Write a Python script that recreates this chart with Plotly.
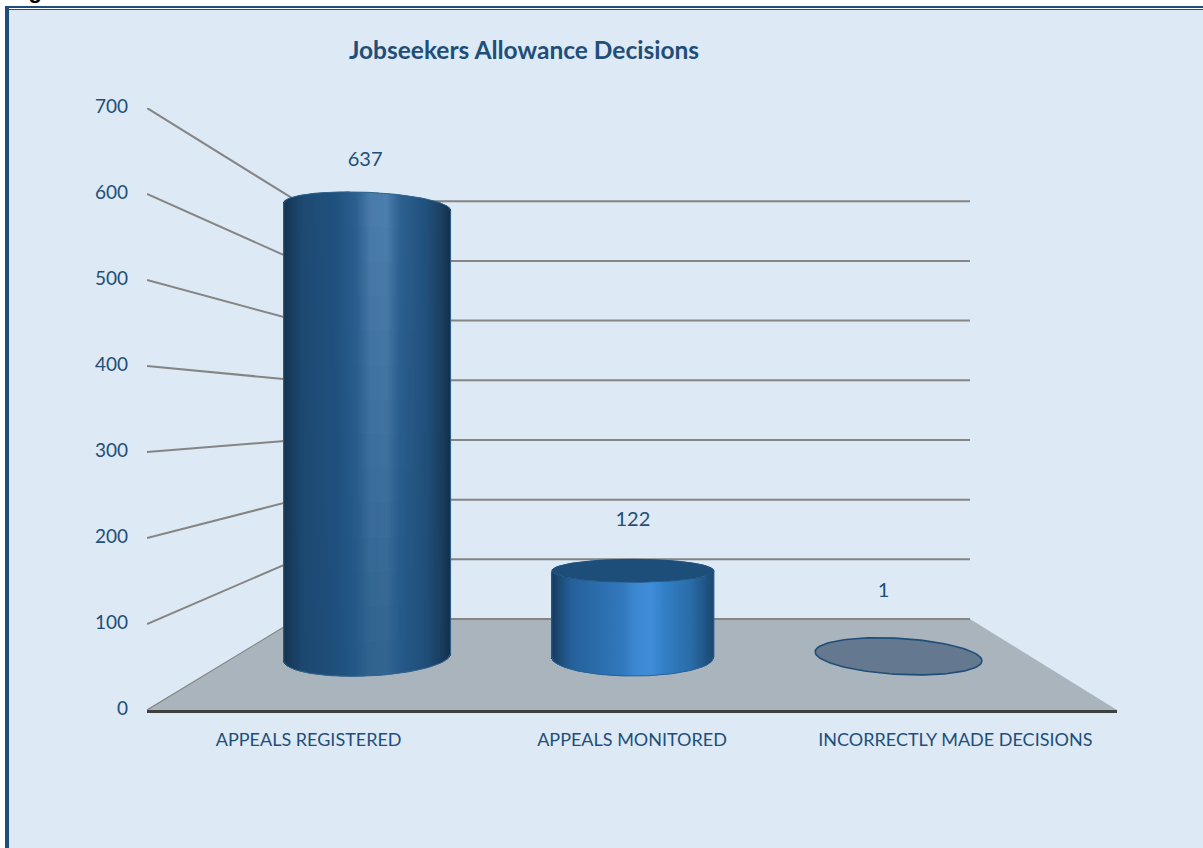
import math
import plotly.graph_objects as go

# Chart content
CATEGORIES = ["APPEALS REGISTERED", "APPEALS MONITORED", "INCORRECTLY MADE DECISIONS"]
VALUES = [637, 122, 1]
AXIS_TICKS = [0, 100, 200, 300, 400, 500, 600, 700]
TITLE = "Jobseekers Allowance Decisions"

# Colours
INK = "#1F4E79"
PANEL = "#DDE9F5"
FLOOR = "#A9B4BC"
WALL_LINE = "#858585"
FLAT_FILL = "#64788F"
CAP_FILL = "#1D4E79"

# Horizontal shading of each cylinder, left edge to right edge
SHADE_POS = [0.0, 0.04, 0.12, 0.32, 0.44, 0.52, 0.62, 0.70, 0.86, 0.95, 1.0]
TALL_UPPER = ["#15304B", "#173A5A", "#1D4A72", "#20527F", "#2C6090", "#4A7BAA", "#4D7FAE", "#2E6090", "#20507C", "#1B3F60", "#152F4A"]
TALL_LOWER = ["#15304B", "#173A5A", "#1C4870", "#1F4F7C", "#245886", "#30628F", "#33648F", "#26598A", "#1F4E78", "#1A3D5E", "#152F4A"]
SHORT_BODY = ["#16375A", "#1B4770", "#24609A", "#2C70B0", "#3278BC", "#3C88D2", "#408CD8", "#337FC6", "#2A6CA8", "#1F5585", "#1B4A74"]

# Perspective of the chart box: plot fills 0-3 across, 0-700 up
PX_PER_UNIT = 0.86
BACK_LEFT = 0.4639
BACK_RIGHT = 0.4547
FLOOR_RISE = 105.8
WALL_SHRINK = 0.306
BAR_DEPTH = 0.582

# Cylinder geometry per category, arcs and tilts in pixels
HALF_WIDTH = [0.314, 0.305, 0.314]
FOOT_ARC = [19.0, 19.0, 18.0]
FOOT_TILT = [-3.5, 0.0, 4.5]
TOP_ARC = [14.5, 11.5, 18.0]
TOP_TILT = [3.5, 0.0, 4.5]
LABEL_LIFT = [46, 50, 64]
LABEL_SHIFT = [-2, 0, -15]
RIM = ["#2F6690", "#2A629A", None]

SLICES = 167


def project(pos, value, depth):
    left = BACK_LEFT * depth
    right = 3 - BACK_RIGHT * depth
    x = left + (right - left) * pos / 3
    y = FLOOR_RISE * depth + value * (1 - WALL_SHRINK * depth)
    return x, y


def slot_width(depth):
    return (3 - BACK_RIGHT * depth - BACK_LEFT * depth) / 3


def hex_rgb(c):
    return tuple(int(c[i:i + 2], 16) for i in (1, 3, 5))


def shade(stops, u):
    for i in range(len(SHADE_POS) - 1):
        if u <= SHADE_POS[i + 1]:
            f = (u - SHADE_POS[i]) / (SHADE_POS[i + 1] - SHADE_POS[i])
            a, b = hex_rgb(stops[i]), hex_rgb(stops[i + 1])
            return tuple(a[k] + (b[k] - a[k]) * f for k in range(3))
    return hex_rgb(stops[-1])


def mix(a, b, f):
    return "rgb(%d,%d,%d)" % tuple(round(a[k] + (b[k] - a[k]) * f) for k in range(3))


def arc(cy, b, tilt, u, sign):
    # y of an ellipse edge at u in [-1, 1]; sign +1 upper edge, -1 lower edge
    root = math.sqrt(max(0.0, 1 - u * u))
    return cy + (-tilt * u + sign * b * root) / PX_PER_UNIT


def ellipse(cx, cy, half, b, tilt):
    us = [math.cos(2 * math.pi * k / 120) for k in range(121)]
    vs = [math.sin(2 * math.pi * k / 120) for k in range(121)]
    xs = [cx + half * u for u in us]
    ys = [cy + (-tilt * u + b * v) / PX_PER_UNIT for u, v in zip(us, vs)]
    return xs, ys


def path(points):
    return "M" + "L".join("%.4f,%.4f" % p for p in points) + "Z"


def px_x(p):
    return (p - 147) / 970


def px_y(p):
    return (710 - p) / 602


shapes = [
    dict(type="rect", xref="paper", yref="paper", x0=px_x(9), x1=px_x(1203), y0=px_y(848), y1=px_y(10),
         fillcolor=PANEL, line_width=0, layer="below"),
    dict(type="rect", xref="paper", yref="paper", x0=px_x(5), x1=px_x(9), y0=px_y(848), y1=px_y(6),
         fillcolor=INK, line_width=0, layer="below"),
    dict(type="rect", xref="paper", yref="paper", x0=px_x(5), x1=px_x(1203), y0=px_y(8), y1=px_y(6),
         fillcolor=INK, line_width=0, layer="below"),
    dict(type="rect", xref="paper", yref="paper", x0=px_x(9), x1=px_x(1203), y0=px_y(10), y1=px_y(9),
         fillcolor=INK, line_width=0, layer="below"),
]

# Floor of the box
corners = [project(0, 0, 0), project(0, 0, 1), project(3, 0, 1), project(3, 0, 0)]
shapes.append(dict(type="path", xref="x", yref="y", path=path(corners), fillcolor=FLOOR, line_width=0, layer="below"))
shapes.append(dict(type="line", xref="x", yref="y", x0=corners[0][0], y0=corners[0][1], x1=corners[1][0], y1=corners[1][1],
                   line=dict(color=WALL_LINE, width=1.2), layer="below"))

# Gridlines on the side wall and the back wall
for tick in AXIS_TICKS:
    x0, y0 = project(0, tick, 0)
    x1, y1 = project(0, tick, 1)
    x2, y2 = project(3, tick, 1)
    shapes.append(dict(type="line", xref="x", yref="y", x0=x1, y0=y1, x1=x2, y1=y2,
                       line=dict(color=WALL_LINE, width=2), layer="below"))
    if tick:
        shapes.append(dict(type="line", xref="x", yref="y", x0=x0, y0=y0, x1=x1, y1=y1,
                           line=dict(color=WALL_LINE, width=2), layer="below"))

fig = go.Figure()

for i, value in enumerate(VALUES):
    pos = i + 0.5
    half = HALF_WIDTH[i] * slot_width(BAR_DEPTH)
    cx, foot_y = project(pos, 0, BAR_DEPTH)
    _, top_y = project(pos, value, BAR_DEPTH)

    if i == 2:
        # A single case leaves only a flat disc on the floor
        xs, ys = ellipse(cx, top_y, half, TOP_ARC[i], TOP_TILT[i])
        fig.add_trace(go.Scatter(x=xs, y=ys, mode="lines", fill="toself", fillcolor=FLAT_FILL,
                                 line=dict(color=INK, width=1.6), hoverinfo="skip", showlegend=False))
    else:
        # The body is a run of thin stacked bars carrying the shading
        has_cap = i == 1
        rows = 14 if i == 0 else 4
        upper = TALL_UPPER if i == 0 else SHORT_BODY
        lower = TALL_LOWER if i == 0 else SHORT_BODY
        step = 2 * half / SLICES
        bx, by, bb, bc = [], [], [], []
        for s in range(SLICES):
            u = (s + 0.5) / SLICES * 2 - 1
            bottom = arc(foot_y, FOOT_ARC[i], FOOT_TILT[i], u, -1)
            sign = -1 if has_cap else 1
            top = arc(top_y, TOP_ARC[i], TOP_TILT[i], u, sign)
            a = shade(upper, (u + 1) / 2)
            b = shade(lower, (u + 1) / 2)
            for r in range(rows):
                f0 = r / rows
                f1 = (r + 1) / rows
                seg0 = bottom + (top - bottom) * f0
                seg1 = bottom + (top - bottom) * f1
                bx.append(cx + u * half)
                bb.append(seg0)
                by.append(seg1 - seg0 + (0.6 if r < rows - 1 else 0))
                bc.append(mix(b, a, (f0 + f1) / 2))
        fig.add_trace(go.Bar(x=bx, y=by, base=bb, width=step * 1.25, marker=dict(color=bc, line_width=0),
                             hoverinfo="skip", showlegend=False))

        # Thin rim around the silhouette
        n = 60
        us = [k / n * 2 - 1 for k in range(n + 1)]
        sign = 1
        xs = [cx + u * half for u in us] + [cx + u * half for u in reversed(us)] + [cx - half]
        ys = [arc(top_y, TOP_ARC[i], TOP_TILT[i], u, sign) for u in us] + \
             [arc(foot_y, FOOT_ARC[i], FOOT_TILT[i], u, -1) for u in reversed(us)] + \
             [arc(top_y, TOP_ARC[i], TOP_TILT[i], -1, sign)]
        fig.add_trace(go.Scatter(x=xs, y=ys, mode="lines", line=dict(color=RIM[i], width=1),
                                 hoverinfo="skip", showlegend=False))
        if has_cap:
            xs, ys = ellipse(cx, top_y, half, TOP_ARC[i], TOP_TILT[i])
            fig.add_trace(go.Scatter(x=xs, y=ys, mode="lines", fill="toself", fillcolor=CAP_FILL,
                                     line=dict(color=CAP_FILL, width=0.8), hoverinfo="skip", showlegend=False))

    # Value label floating above the cylinder
    fig.add_trace(go.Scatter(
        x=[cx + LABEL_SHIFT[i] / 323.3], y=[top_y + LABEL_LIFT[i] / PX_PER_UNIT],
        mode="text", text=[str(value)], textposition="middle center",
        textfont=dict(family="Lato", size=20, color=INK), hoverinfo="skip", showlegend=False))

fig.update_layout(
    width=1203, height=848,
    margin=dict(l=147, r=86, t=108, b=138, autoexpand=False),
    paper_bgcolor="white", plot_bgcolor="rgba(0,0,0,0)",
    barmode="overlay", showlegend=False, shapes=shapes,
    font=dict(family="Lato", color=INK),
    title=dict(text="<b>%s</b>" % TITLE, x=524 / 1203, xanchor="center", y=1 - 50 / 848, yanchor="middle",
               font=dict(family="Lato", size=24.5, color=INK)),
    xaxis=dict(range=[0, 3], tickvals=[0.5, 1.5, 2.5], ticktext=CATEGORIES, ticks="", showgrid=False, zeroline=False,
               showline=True, linecolor="#404040", linewidth=3, ticklabelstandoff=11,
               tickfont=dict(family="Lato", size=18, color=INK), fixedrange=True),
    yaxis=dict(range=[0, 700], tickvals=AXIS_TICKS, ticks="", showgrid=False, zeroline=False, showline=False,
               ticklabelstandoff=18, ticklabelshift=-2,
               tickfont=dict(family="Lato", size=19, color=INK), fixedrange=True),
    annotations=[dict(text="<b>Figure</b>", xref="paper", yref="paper", x=px_x(7), y=px_y(5), xanchor="left", yanchor="bottom",
                      showarrow=False, font=dict(family="Liberation Sans", size=22, color="black"))],
)

fig.write_html("out.html")
